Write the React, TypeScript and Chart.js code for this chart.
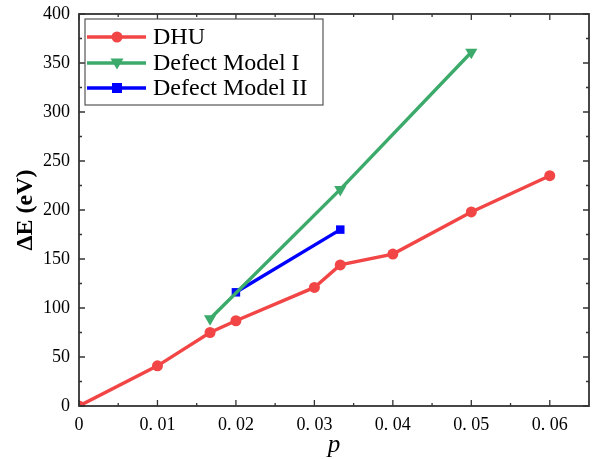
import React, { useEffect, useRef } from "react";
import { Chart, registerables } from "chart.js";

Chart.register(...registerables);

const dhuX = [0, 0.01, 0.0167, 0.02, 0.03, 0.0333, 0.04, 0.05, 0.06];
const dhuY = [0, 41, 75, 87, 121, 144, 155, 198, 235];
const model1X = [0.0167, 0.0333, 0.05];
const model1Y = [89, 221, 361];
const model2X = [0.02, 0.0333];
const model2Y = [116, 180];

const seriesLabels = ["DHU", "Defect Model I", "Defect Model II"];
const xTickValues = [0, 0.01, 0.02, 0.03, 0.04, 0.05, 0.06];
const xTickLabels = ["0", "0. 01", "0. 02", "0. 03", "0. 04", "0. 05", "0. 06"];
const yTickValues = [0, 50, 100, 150, 200, 250, 300, 350, 400];
const xMinorTicks = [0.005, 0.015, 0.025, 0.035, 0.045, 0.055];
const yMinorTicks = [25, 75, 125, 175, 225, 275, 325, 375];

const RED = "#F24545";
const GREEN = "#3BAA6A";
const BLUE = "#0000FF";
const SERIF = "'Liberation Serif', 'Times New Roman', serif";

const frameAndLegend = {
  id: "frameAndLegend",
  afterDraw(chart: any) {
    const { ctx, chartArea } = chart;
    const { left, right, top, bottom } = chartArea;
    const xs = chart.scales.x;
    const ys = chart.scales.y;
    ctx.save();
    ctx.strokeStyle = "#333";
    ctx.lineWidth = 1.8;
    ctx.strokeRect(left, top, right - left, bottom - top);
    ctx.lineWidth = 1.3;
    const drawX = (vals: number[], len: number) => {
      vals.forEach((v) => {
        const px = xs.getPixelForValue(v);
        ctx.beginPath();
        ctx.moveTo(px, bottom);
        ctx.lineTo(px, bottom - len);
        ctx.moveTo(px, top);
        ctx.lineTo(px, top + len);
        ctx.stroke();
      });
    };
    const drawY = (vals: number[], len: number) => {
      vals.forEach((v) => {
        const py = ys.getPixelForValue(v);
        ctx.beginPath();
        ctx.moveTo(left, py);
        ctx.lineTo(left + len, py);
        ctx.moveTo(right, py);
        ctx.lineTo(right - len, py);
        ctx.stroke();
      });
    };
    drawX(xTickValues, 6);
    drawX(xMinorTicks, 3);
    drawY(yTickValues, 6);
    drawY(yMinorTicks, 3);

    // legend
    const bx = 85, by = 19, bw = 238, bh = 86;
    ctx.fillStyle = "#fff";
    ctx.fillRect(bx, by, bw, bh);
    ctx.strokeStyle = "#555";
    ctx.lineWidth = 1.2;
    ctx.strokeRect(bx, by, bw, bh);
    const rows = [37, 63, 88];
    chart.data.datasets.forEach((ds: any, i: number) => {
      const y = rows[i];
      ctx.strokeStyle = ds.borderColor;
      ctx.lineWidth = 3.4;
      ctx.beginPath();
      ctx.moveTo(87, y);
      ctx.lineTo(146, y);
      ctx.stroke();
      ctx.fillStyle = ds.borderColor;
      if (i === 0) {
        ctx.beginPath();
        ctx.arc(117, y, 5.5, 0, Math.PI * 2);
        ctx.fill();
      } else if (i === 1) {
        ctx.beginPath();
        ctx.moveTo(110.5, y - 4.5);
        ctx.lineTo(123.5, y - 4.5);
        ctx.lineTo(117, y + 6.5);
        ctx.closePath();
        ctx.fill();
      } else {
        ctx.fillRect(112, y - 5, 10, 10);
      }
      ctx.fillStyle = "#000";
      ctx.font = `24px ${SERIF}`;
      ctx.textBaseline = "middle";
      ctx.textAlign = "left";
      ctx.fillText(ds.label, 153, y + 1);
    });
    ctx.restore();
  },
};

export default function App() {
  const ref = useRef<HTMLCanvasElement>(null);
  useEffect(() => {
    document.body.style.margin = "0";
    const canvas = ref.current!;
    const toPts = (xs: number[], ys: number[]) => xs.map((x, i) => ({ x, y: ys[i] }));
    const chart = new Chart(canvas, {
      type: "line",
      data: {
        datasets: [
          {
            label: seriesLabels[0],
            data: toPts(dhuX, dhuY),
            borderColor: RED,
            backgroundColor: RED,
            borderWidth: 3.4,
            pointStyle: "circle",
            pointRadius: 5.5,
            pointBorderWidth: 0,
            clip: 0,
          },
          {
            label: seriesLabels[1],
            data: toPts(model1X, model1Y),
            borderColor: GREEN,
            backgroundColor: GREEN,
            borderWidth: 3.4,
            pointStyle: "triangle",
            pointRotation: 180,
            pointRadius: 7,
            pointBorderWidth: 0,
            clip: 0,
          },
          {
            label: seriesLabels[2],
            data: toPts(model2X, model2Y),
            borderColor: BLUE,
            backgroundColor: BLUE,
            borderWidth: 3.4,
            pointStyle: "rect",
            pointRadius: 6,
            pointBorderWidth: 0,
            clip: 0,
          },
        ],
      },
      options: {
        animation: false,
        responsive: false,
        layout: { autoPadding: false, padding: { left: 0, right: 3, top: 14, bottom: 0 } },
        plugins: { legend: { display: false }, tooltip: { enabled: false } },
        scales: {
          x: {
            type: "linear",
            min: 0,
            max: 0.065,
            grid: { display: false, drawTicks: false },
            border: { display: false },
            afterBuildTicks: (s: any) => {
              s.ticks = xTickValues.map((v) => ({ value: v }));
            },
            afterFit: (s: any) => {
              s.height = 53;
              s.paddingLeft = 0;
              s.paddingRight = 0;
            },
            ticks: {
              padding: 8,
              maxRotation: 0,
              autoSkip: false,
              color: "#000",
              font: { family: SERIF, size: 18 },
              callback: (v: any) => {
                const i = xTickValues.findIndex((t) => Math.abs(t - Number(v)) < 1e-9);
                return i >= 0 ? xTickLabels[i] : "";
              },
            },
            title: {
              display: true,
              text: "p",
              color: "#000",
              font: { family: SERIF, size: 25, style: "italic" },
              padding: { top: 0, bottom: -1 },
            },
          },
          y: {
            type: "linear",
            min: 0,
            max: 400,
            grid: { display: false, drawTicks: false },
            border: { display: false },
            afterBuildTicks: (s: any) => {
              s.ticks = yTickValues.map((v) => ({ value: v }));
            },
            afterFit: (s: any) => {
              s.width = 79;
              s.paddingTop = 0;
              s.paddingBottom = 0;
            },
            ticks: {
              padding: 9,
              color: "#000",
              font: { family: SERIF, size: 18 },
            },
            title: {
              display: true,
              text: "ΔE (eV)",
              color: "#000",
              font: { family: SERIF, size: 24, weight: "bold" },
              padding: { top: 11, bottom: 0 },
            },
          },
        },
      },
      plugins: [frameAndLegend],
    } as any);
    return () => chart.destroy();
  }, []);
  return <canvas ref={ref} width={592} height={459} style={{ display: "block" }} />;
}
